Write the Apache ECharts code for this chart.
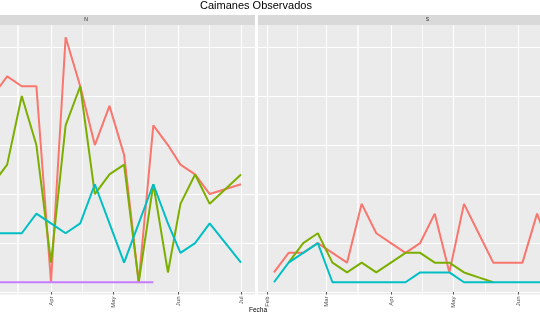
<!DOCTYPE html>
<html><head><meta charset="utf-8">
<script src="https://cdn.jsdelivr.net/npm/echarts@6/dist/echarts.min.js"></script>
<style>html,body{margin:0;padding:0;background:#fff}#c{width:540px;height:326px}</style>
</head><body><div id="c"></div>
<script>
// ---- data ----
const datesN = ['2021-03-04','2021-03-11','2021-03-18','2021-03-25','2021-04-01','2021-04-08','2021-04-15','2021-04-22','2021-04-29','2021-05-06','2021-05-13','2021-05-20','2021-05-27','2021-06-02','2021-06-09','2021-06-16','2021-07-01'];
const redN    = [20,22,21,21,1,26,21,15,19,14,1,17,15,13,12,10,11];
const greenN  = [11,13,20,15,3,17,21,10,12,13,1,11,2,9,12,9,12];
const cyanN   = [6,6,6,8,7,6,7,11,7,3,7,11,7,4,5,7,3];
const purpleN = [1,1,1,1,1,1,1,1,1,1,1,1,null,null,null,null,null];

const datesS = ['2021-02-04','2021-02-11','2021-02-18','2021-02-25','2021-03-04','2021-03-11','2021-03-18','2021-03-25','2021-04-01','2021-04-08','2021-04-15','2021-04-22','2021-04-29','2021-05-06','2021-05-13','2021-05-20','2021-05-27','2021-06-03','2021-06-10','2021-06-17'];
const redS   = [2,4,4,5,4,3,9,6,5,4,5,8,2,9,6,3,3,3,8,4];
const greenS = [null,3,5,6,3,2,3,2,3,4,4,3,3,2,1.5,1,null,null,null,null];
const cyanS  = [1,3,4,5,1,1,1,1,1,1,2,2,2,1,1,1,1,1,1,1];

const tickDates  = ['2021-02-01','2021-03-01','2021-04-01','2021-05-01','2021-06-01','2021-07-01'];
const tickLabels = ['Feb','Mar','Apr','May','Jun','Jul'];
const minorDates = ['2021-02-15','2021-03-16','2021-04-16','2021-05-16','2021-06-16'];
const yBreaks = [0,5,10,15,20,25];

// ---- helpers ----
const day = s => Date.UTC(+s.slice(0,4), +s.slice(5,7)-1, +s.slice(8,10)) / 864e5;
const pairs = (d, v) => d.map((s, i) => [day(s), v[i]]);
const tickDays = tickDates.map(day);
const minorDays = minorDates.map(day).concat([day('2021-03-16') + 0.5]);

const xMinN = day('2021-03-07') + 0.57, xMaxN = day('2021-07-07') + 0.7;
const xMinS = day('2021-01-27') + 0.35, xMaxS = day('2021-06-11') + 0.4;
const inRange = (arr, a, b) => arr.filter(v => v >= a && v <= b);

const font = 'Liberation Sans, Arial, sans-serif';
function majorAxis(grid, mn, mx) {
  const vals = inRange(tickDays, mn, mx);
  return {
    type: 'value', gridIndex: grid, min: mn, max: mx,
    axisLine: {show: false},
    axisTick: {show: true, length: 2.5, lineStyle: {color: '#333', width: 0.8}, customValues: vals},
    axisLabel: {show: true, rotate: 90, fontSize: 6, color: '#4D4D4D', margin: 2, fontFamily: font,
      customValues: vals,
      formatter: v => tickLabels[tickDays.findIndex(t => Math.abs(t - v) < 1e-6)] || ''},
    splitLine: {show: true, lineStyle: {color: '#FFFFFF', width: 1}}
  };
}
function minorAxis(grid, mn, mx) {
  const vals = inRange(minorDays, mn, mx);
  return {
    type: 'value', gridIndex: grid, min: mn, max: mx,
    axisLine: {show: false},
    axisTick: {show: false, customValues: vals},
    axisLabel: {show: false, customValues: vals},
    splitLine: {show: true, lineStyle: {color: '#FFFFFF', width: 0.7}}
  };
}
function yAx(grid) {
  return {
    type: 'value', gridIndex: grid, min: -0.25, max: 27.25,
    axisLine: {show: false}, axisLabel: {show: false},
    axisTick: {show: false, customValues: yBreaks},
    splitLine: {show: true, lineStyle: {color: '#FFFFFF', width: 1}}
  };
}
function line(name, color, xi, data) {
  return {type: 'line', name, xAxisIndex: xi, yAxisIndex: xi, data, showSymbol: false,
    lineStyle: {color, width: 2}, itemStyle: {color}, clip: true, animation: false, silent: true};
}

const chart = echarts.init(document.getElementById('c'), null, {renderer: 'canvas'});
chart.setOption({
  animation: false,
  backgroundColor: '#FFFFFF',
  title: {text: 'Caimanes Observados', left: 200, top: 0, padding: 0,
    textStyle: {fontSize: 11, fontWeight: 'normal', color: '#000', fontFamily: font}},
  grid: [
    {left: 0, top: 25, width: 255, bottom: 31.5, show: true, backgroundColor: '#EBEBEB', borderWidth: 0},
    {left: 258, top: 25, right: 0, bottom: 31.5, show: true, backgroundColor: '#EBEBEB', borderWidth: 0}
  ],
  xAxis: [majorAxis(0, xMinN, xMaxN), majorAxis(1, xMinS, xMaxS), minorAxis(0, xMinN, xMaxN), minorAxis(1, xMinS, xMaxS)],
  yAxis: [yAx(0), yAx(1)],
  series: [
    line('red', '#F8766D', 0, pairs(datesN, redN)),
    line('green', '#7CAE00', 0, pairs(datesN, greenN)),
    line('cyan', '#00BFC4', 0, pairs(datesN, cyanN)),
    line('purple', '#C77CFF', 0, pairs(datesN, purpleN)),
    line('red', '#F8766D', 1, pairs(datesS, redS)),
    line('green', '#7CAE00', 1, pairs(datesS, greenS)),
    line('cyan', '#00BFC4', 1, pairs(datesS, cyanS))
  ],
  graphic: [
    {type: 'rect', shape: {x: 0, y: 15, width: 255, height: 10}, style: {fill: '#D9D9D9'}, silent: true},
    {type: 'rect', shape: {x: 258, y: 15, width: 282, height: 10}, style: {fill: '#D9D9D9'}, silent: true},
    {type: 'text', x: 86, y: 20, style: {text: 'N', fontSize: 5, fill: '#1A1A1A', align: 'center', verticalAlign: 'middle', fontFamily: font}},
    {type: 'text', x: 427.5, y: 20, style: {text: 'S', fontSize: 5, fill: '#1A1A1A', align: 'center', verticalAlign: 'middle', fontFamily: font}},
    {type: 'text', x: 258, y: 310, style: {text: 'Fecha', fontSize: 6.5, fill: '#000', align: 'center', verticalAlign: 'middle', fontFamily: font}}
  ]
});
</script></body></html>
